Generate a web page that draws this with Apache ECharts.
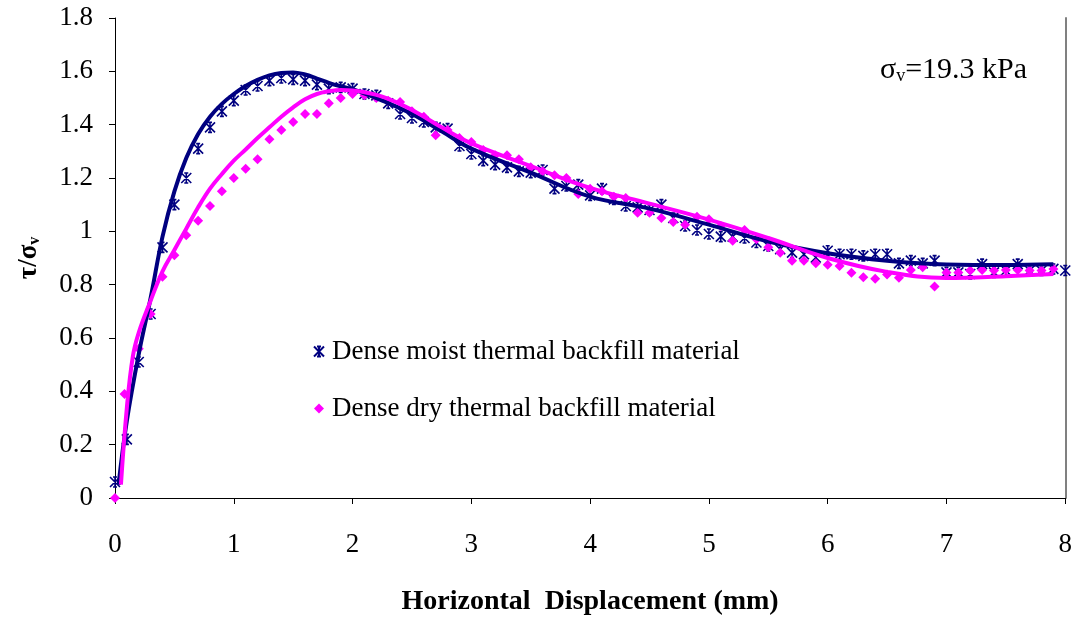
<!DOCTYPE html>
<html><head><meta charset="utf-8">
<script src="https://cdn.jsdelivr.net/npm/echarts@6/dist/echarts.min.js"></script>
<style>html,body{margin:0;padding:0;background:#fff}#c{width:1075px;height:621px}</style>
</head><body><div id="c"></div>
<script>
var moistX = [0,0.1,0.2,0.3,0.4,0.5,0.6,0.7,0.8,0.9,1.0,1.1,1.2,1.3,1.4,1.5,1.6,1.7,1.8,1.9,2.0,2.1,2.2,2.3,2.4,2.5,2.6,2.7,2.8,2.9,3.0,3.1,3.2,3.3,3.4,3.5,3.6,3.7,3.8,3.9,4.0,4.1,4.2,4.3,4.4,4.5,4.6,4.7,4.8,4.9,5.0,5.1,5.2,5.3,5.4,5.5,5.6,5.7,5.8,5.9,6.0,6.1,6.2,6.3,6.4,6.5,6.6,6.7,6.8,6.9,7.0,7.1,7.2,7.3,7.4,7.5,7.6,7.7,7.8,7.9,8.0];
var moistY = [0.06,0.22,0.51,0.69,0.94,1.10,1.20,1.31,1.39,1.45,1.49,1.53,1.545,1.565,1.575,1.57,1.565,1.55,1.535,1.54,1.535,1.515,1.51,1.48,1.44,1.425,1.41,1.39,1.385,1.32,1.29,1.265,1.25,1.24,1.225,1.22,1.23,1.16,1.17,1.175,1.135,1.16,1.12,1.095,1.09,1.08,1.10,1.05,1.02,1.005,0.99,0.98,0.98,0.975,0.958,0.945,0.933,0.92,0.914,0.902,0.927,0.914,0.914,0.908,0.914,0.914,0.88,0.89,0.88,0.89,0.846,0.846,0.84,0.877,0.846,0.853,0.877,0.853,0.853,0.859,0.853];
var dryX = [0,0.08,0.2,0.3,0.4,0.5,0.6,0.7,0.8,0.9,1.0,1.1,1.2,1.3,1.4,1.5,1.6,1.7,1.8,1.9,2.0,2.1,2.2,2.3,2.4,2.5,2.6,2.7,2.8,2.9,3.0,3.1,3.2,3.3,3.4,3.5,3.6,3.7,3.8,3.9,4.0,4.1,4.2,4.3,4.4,4.5,4.6,4.7,4.8,4.9,5.0,5.1,5.2,5.3,5.4,5.5,5.6,5.7,5.8,5.9,6.0,6.1,6.2,6.3,6.4,6.5,6.6,6.7,6.8,6.9,7.0,7.1,7.2,7.3,7.4,7.5,7.6,7.7,7.8,7.9];
var dryY = [0,0.39,0.56,0.69,0.83,0.91,0.985,1.04,1.095,1.15,1.20,1.235,1.27,1.345,1.38,1.41,1.44,1.44,1.48,1.50,1.515,1.51,1.50,1.49,1.485,1.45,1.43,1.36,1.38,1.35,1.335,1.305,1.285,1.285,1.27,1.24,1.225,1.21,1.20,1.14,1.16,1.15,1.13,1.125,1.07,1.07,1.05,1.035,1.025,1.055,1.045,1.02,0.965,1.005,0.97,0.94,0.92,0.89,0.89,0.88,0.875,0.87,0.845,0.828,0.822,0.838,0.826,0.855,0.865,0.793,0.846,0.846,0.853,0.855,0.853,0.855,0.855,0.853,0.853,0.859];
var moistFitX = [0.03,0.1,0.2,0.3,0.4,0.5,0.6,0.7,0.8,0.9,1.0,1.1,1.2,1.3,1.4,1.5,1.6,1.7,1.8,1.9,2.0,2.25,2.5,2.75,3.0,3.5,4.0,4.5,5.0,5.5,6.0,6.5,7.0,7.5,7.9];
var moistFitY = [0.05,0.29,0.54,0.75,0.98,1.15,1.275,1.365,1.43,1.478,1.515,1.545,1.568,1.585,1.594,1.596,1.588,1.573,1.557,1.544,1.533,1.49,1.44,1.375,1.31,1.22,1.13,1.085,1.025,0.962,0.918,0.89,0.876,0.874,0.877];
var dryFitX = [0.05,0.1,0.15,0.2,0.3,0.4,0.5,0.6,0.7,0.8,0.9,1.0,1.1,1.2,1.3,1.4,1.5,1.6,1.7,1.8,1.9,2.0,2.25,2.5,2.75,3.0,3.5,4.0,4.5,5.0,5.5,6.0,6.5,7.0,7.5,7.9];
var dryFitY = [0.05,0.34,0.53,0.62,0.74,0.85,0.93,1.01,1.09,1.16,1.215,1.265,1.307,1.35,1.39,1.43,1.465,1.495,1.515,1.525,1.53,1.528,1.505,1.455,1.39,1.33,1.245,1.163,1.104,1.044,0.975,0.9,0.848,0.825,0.832,0.84];
var seriesNames = ['Dense moist thermal backfill material','Dense dry thermal backfill material'];
var xTitle = 'Horizontal  Displacement (mm)';
var annotation = '=19.3 kPa';

function pairs(xs, ys){ return xs.map(function(x,i){ return [x, ys[i]]; }); }
var NAVY = '#000080', PINK = '#FF00FF';
var FONT = '"Liberation Serif","Times New Roman",serif';
var starPath = 'path://M0,0L10,10M10,0L0,10M5,0L5,10M3,0L7,0M3,10L7,10';

var chart = echarts.init(document.getElementById('c'));
chart.setOption({
  animation: false,
  backgroundColor: '#fff',
  grid: {left: 115, right: 9, top: 18, bottom: 118, containLabel: false},
  legend: {
    orient: 'vertical', left: 308, top: 333, itemGap: 30,
    itemWidth: 10, itemHeight: 10,
    data: seriesNames,
    textStyle: {fontFamily: FONT, fontSize: 27, color: '#000', padding: [0,0,0,3]}
  },
  xAxis: {
    type: 'value', min: 0, max: 8, interval: 1,
    name: xTitle, nameLocation: 'middle', nameGap: 90,
    nameTextStyle: {fontFamily: FONT, fontSize: 28, fontWeight: 'bold', color: '#000'},
    axisLine: {lineStyle: {color: '#000', width: 1}},
    axisTick: {inside: false, length: 6, lineStyle: {color: '#000'}},
    axisLabel: {fontFamily: FONT, fontSize: 27, color: '#000', margin: 33},
    splitLine: {show: false}
  },
  yAxis: [{
    type: 'value', min: 0, max: 1.8, interval: 0.2,
    name: '{b|τ/σ}{s|v}', nameLocation: 'middle', nameGap: 72, nameRotate: 90,
    nameTextStyle: {rich: {
      b: {fontFamily: FONT, fontSize: 27, fontWeight: 'bold', color: '#000'},
      s: {fontFamily: FONT, fontSize: 16, fontWeight: 'bold', color: '#000', padding: [10,0,0,0]}
    }},
    axisLine: {show: true, lineStyle: {color: '#000', width: 1}},
    axisTick: {show: true, inside: false, length: 6, lineStyle: {color: '#000'}},
    axisLabel: {fontFamily: FONT, fontSize: 27, color: '#000', margin: 22},
    splitLine: {show: false}
  },{
    type: 'value', min: 0, max: 1.8, position: 'right',
    axisLine: {show: true, lineStyle: {color: '#808080', width: 2}},
    axisTick: {show: false}, axisLabel: {show: false}, splitLine: {show: false}
  }],
  graphic: [{
    type: 'text', left: 880, top: 55,
    style: {
      text: '{a|σ}{s|v}{a|' + annotation + '}',
      rich: {
        a: {fontFamily: FONT, fontSize: 30, fill: '#000'},
        s: {fontFamily: FONT, fontSize: 18, fill: '#000', padding: [13,0,0,0]}
      }
    }
  }],
  series: [
    {name: seriesNames[0], type: 'scatter', data: pairs(moistX, moistY),
     symbol: starPath, symbolSize: 10, z: 2,
     itemStyle: {color: 'rgba(0,0,0,0)', borderColor: NAVY, borderWidth: 1.6, opacity: 1}},
    {name: seriesNames[1], type: 'scatter', data: pairs(dryX, dryY),
     symbol: 'diamond', symbolSize: 10, z: 2,
     itemStyle: {color: PINK, opacity: 1}},
    {name: 'moistFit', type: 'line', data: pairs(moistFitX, moistFitY),
     smooth: 0.4, showSymbol: false, z: 3, lineStyle: {color: NAVY, width: 4}},
    {name: 'dryFit', type: 'line', data: pairs(dryFitX, dryFitY),
     smooth: 0.4, showSymbol: false, z: 4, lineStyle: {color: PINK, width: 4}}
  ]
});
</script></body></html>
